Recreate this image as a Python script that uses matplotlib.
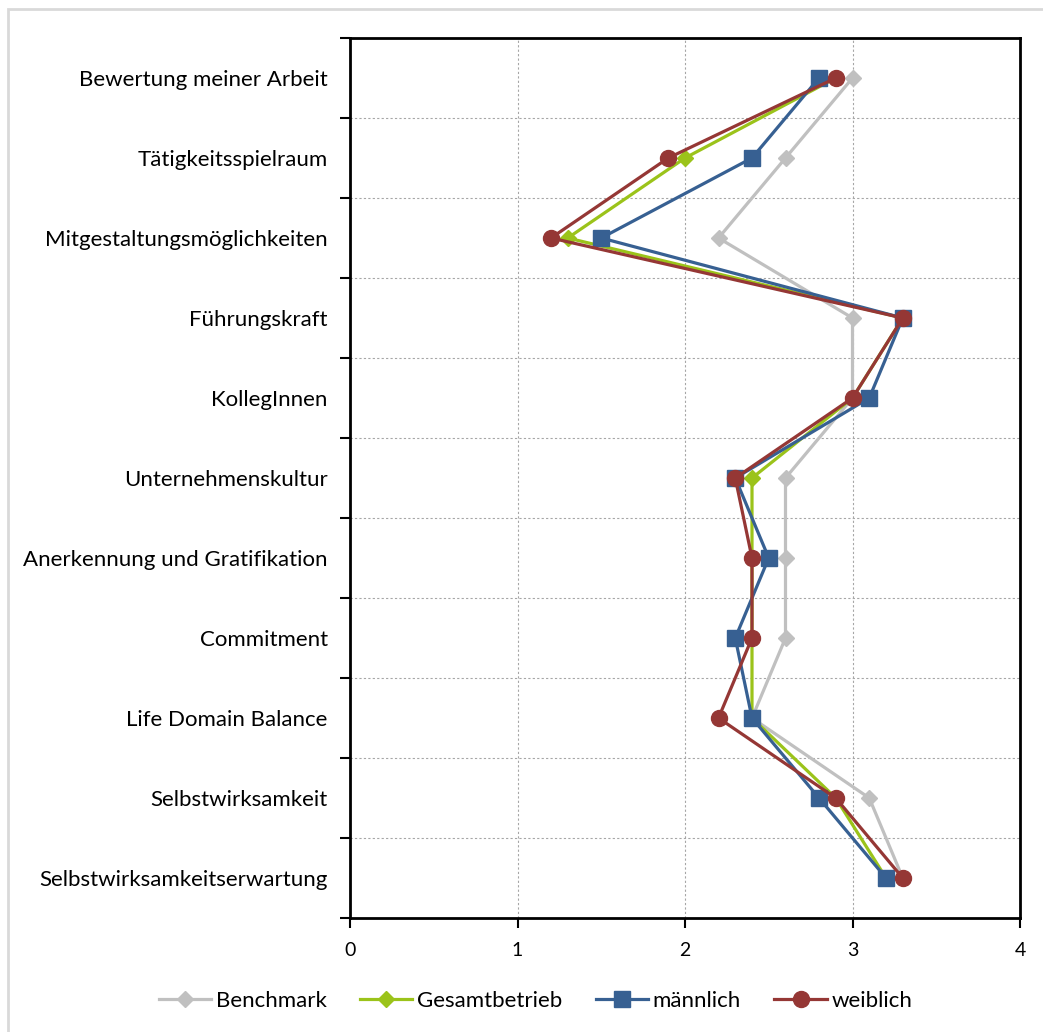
import numpy as np
import matplotlib.pyplot as plt
from matplotlib.patches import Rectangle

# Daten
kategorien = ["Bewertung meiner Arbeit", "Tätigkeitsspielraum", "Mitgestaltungsmöglichkeiten",
              "Führungskraft", "KollegInnen", "Unternehmenskultur",
              "Anerkennung und Gratifikation", "Commitment", "Life Domain Balance",
              "Selbstwirksamkeit", "Selbstwirksamkeitserwartung"]
benchmark = [3.0, 2.6, 2.2, 3.0, 3.0, 2.6, 2.6, 2.6, 2.4, 3.1, 3.3]
gesamtbetrieb = [2.9, 2.0, 1.3, 3.3, 3.0, 2.4, 2.4, 2.4, 2.4, 2.9, 3.2]
maennlich = [2.8, 2.4, 1.5, 3.3, 3.1, 2.3, 2.5, 2.3, 2.4, 2.8, 3.2]
weiblich = [2.9, 1.9, 1.2, 3.3, 3.0, 2.3, 2.4, 2.4, 2.2, 2.9, 3.3]
x_ticks = [0, 1, 2, 3, 4]

plt.rcParams['font.family'] = ['Lato', 'DejaVu Sans']

fig = plt.figure(figsize=(10.43, 10.32), dpi=100)
# heller Rahmen um das Diagramm
fig.patches.append(Rectangle((8/1043, -0.01), 1.02, 1 - 9/1032 + 0.01, transform=fig.transFigure,
                             fill=False, edgecolor='#D9D9D9', linewidth=2))
ax = fig.add_axes([350/1043, 1 - 918/1032, 670/1043, 880/1032])

y = np.arange(len(kategorien))

ax.plot(benchmark, y, color='#C0C0C0', lw=2.3, marker='D', ms=8, label='Benchmark', zorder=3)
ax.plot(gesamtbetrieb, y, color='#9BC31A', lw=2.3, marker='D', ms=8, label='Gesamtbetrieb', zorder=4)
ax.plot(maennlich, y, color='#376092', lw=2.3, marker='s', ms=11, label='männlich', zorder=5)
ax.plot(weiblich, y, color='#953735', lw=2.3, marker='o', ms=11.5, label='weiblich', zorder=6)

ax.set_xlim(0, 4)
ax.set_ylim(len(kategorien) - 0.5, -0.5)
ax.set_xticks(x_ticks)
ax.set_yticks(y)
ax.set_yticklabels(kategorien, fontsize=16)
ax.set_yticks(np.arange(-0.5, len(kategorien)), minor=True)
ax.tick_params(axis='y', which='major', length=0, pad=16)
ax.tick_params(axis='y', which='minor', length=7, width=1.5, direction='out')
ax.tick_params(axis='x', length=7, width=1.5, direction='out', labelsize=14, pad=10)

ax.grid(True, axis='x', which='major', color='#A6A6A6', linestyle=(0, (2, 2)), lw=0.8)
ax.grid(True, axis='y', which='minor', color='#A6A6A6', linestyle=(0, (2, 2)), lw=0.8)
for s in ax.spines.values():
    s.set_linewidth(2)
    s.set_color('black')

ax.legend(loc='upper center', bbox_to_anchor=(0.277, -0.06), ncol=4, frameon=False,
          fontsize=16, handlelength=2.35, columnspacing=1.5, handletextpad=0.22)

plt.savefig("out.png", dpi=100)
